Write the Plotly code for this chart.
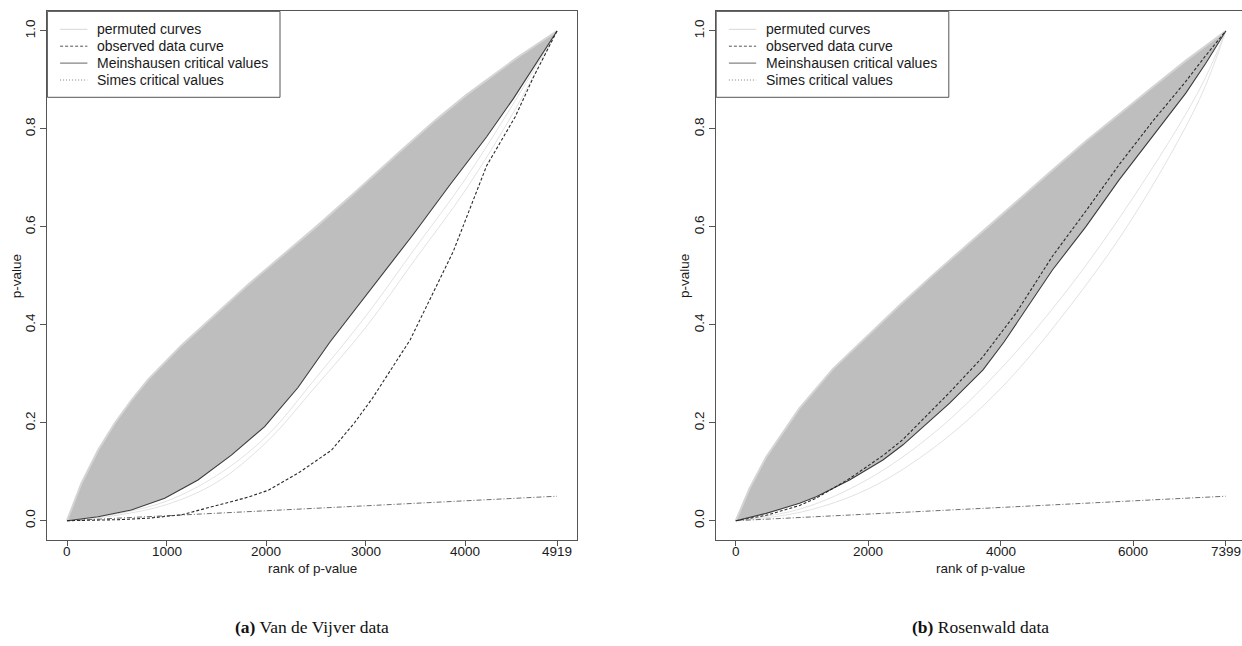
import plotly.graph_objects as go

# ---------------- data ----------------
# Panel (a): Van de Vijver data, n = 4919
a_n = 4919
a_upper_rank = [0, 144, 311, 479, 646, 813, 1148, 1483, 1817, 2152, 2500, 2900, 3343, 3700, 4013, 4515, 4919]
a_upper_p = [0, 0.076, 0.144, 0.199, 0.246, 0.288, 0.358, 0.421, 0.482, 0.540, 0.600, 0.672, 0.754, 0.818, 0.870, 0.945, 1.0]
a_mein_rank = [0, 311, 646, 981, 1315, 1650, 1984, 2319, 2640, 3009, 3477, 3845, 4213, 4481, 4681, 4919]
a_mein_p = [0, 0.008, 0.022, 0.046, 0.083, 0.134, 0.192, 0.272, 0.365, 0.462, 0.585, 0.686, 0.784, 0.862, 0.925, 1.0]
a_obs_rank = [0, 500, 813, 1148, 1483, 1817, 2018, 2320, 2655, 2886, 3066, 3444, 3878, 4213, 4400, 4500, 4681, 4919]
a_obs_p = [0, 0.002, 0.005, 0.012, 0.030, 0.048, 0.062, 0.097, 0.144, 0.200, 0.250, 0.369, 0.550, 0.725, 0.790, 0.825, 0.905, 1.0]
a_low1_rank = [0, 500, 1000, 1500, 2000, 2500, 3000, 3500, 4000, 4500, 4919]
a_low1_p = [0, 0.011, 0.033, 0.078, 0.160, 0.275, 0.395, 0.535, 0.675, 0.840, 1.0]
a_low2_rank = [0, 500, 1000, 1500, 2000, 2500, 3000, 3500, 4000, 4500, 4919]
a_low2_p = [0, 0.014, 0.040, 0.092, 0.172, 0.292, 0.418, 0.558, 0.698, 0.858, 1.0]
a_simes_rank = [0, 4919]
a_simes_p = [0, 0.05]
a_xticks = [0, 1000, 2000, 3000, 4000, 4919]

# Panel (b): Rosenwald data, n = 7399
b_n = 7399
b_upper_rank = [0, 208, 459, 963, 1467, 1970, 2474, 2978, 3481, 3900, 4277, 4800, 5284, 5800, 6291, 6800, 7399]
b_upper_p = [0, 0.066, 0.130, 0.230, 0.310, 0.375, 0.440, 0.502, 0.562, 0.612, 0.656, 0.718, 0.775, 0.832, 0.885, 0.940, 1.0]
b_mein_rank = [0, 459, 963, 1215, 1718, 2222, 2525, 3229, 3733, 4050, 4781, 5284, 5788, 6291, 6795, 7097, 7399]
b_mein_p = [0, 0.015, 0.0355, 0.049, 0.083, 0.124, 0.155, 0.240, 0.308, 0.365, 0.512, 0.600, 0.696, 0.784, 0.873, 0.934, 1.0]
b_obs_rank = [0, 459, 963, 1215, 1718, 2222, 2525, 3229, 3733, 4237, 4781, 5284, 5788, 6291, 6795, 7097, 7399]
b_obs_p = [0, 0.011, 0.031, 0.046, 0.086, 0.133, 0.166, 0.262, 0.335, 0.425, 0.540, 0.632, 0.727, 0.815, 0.897, 0.950, 1.0]
b_low1_rank = [0, 1000, 2000, 3000, 4000, 5000, 6000, 7000, 7399]
b_low1_p = [0, 0.018, 0.065, 0.150, 0.270, 0.430, 0.620, 0.860, 1.0]
b_low2_rank = [0, 1000, 2000, 3000, 4000, 5000, 6000, 7000, 7399]
b_low2_p = [0, 0.025, 0.085, 0.180, 0.310, 0.470, 0.660, 0.880, 1.0]
b_simes_rank = [0, 7399]
b_simes_p = [0, 0.05]
b_xticks = [0, 2000, 4000, 6000, 7399]

y_ticks = [0.0, 0.2, 0.4, 0.6, 0.8, 1.0]
y_ticktext = ["0.0", "0.2", "0.4", "0.6", "0.8", "1.0"]
legend_labels = ["permuted curves", "observed data curve", "Meinshausen critical values", "Simes critical values"]
captions = [("(a)", "Van de Vijver data"), ("(b)", "Rosenwald data")]

# ---------------- layout geometry (pixels) ----------------
W, H = 1242, 646
PW = 529.2                      # plot frame width (px)
PT, PB = 11.4, 540.3            # frame top / bottom (px)
A_LEFT = 47.4
B_LEFT = 716.2

def px(x):
    return x / W

def py(y):
    return 1 - y / H

SANS = "Liberation Sans, Arial, Helvetica, sans-serif"
SERIF = "Liberation Serif, Times New Roman, serif"
GREY = "#bebebe"
FRAME = "#555555"
TEXT = "#1a1a1a"

fig = go.Figure()


def add_panel(xa, ya, upper_r, upper_p, mein_r, mein_p, obs_r, obs_p,
              low1_r, low1_p, low2_r, low2_p, simes_r, simes_p):
    # permuted curves band
    fig.add_trace(go.Scatter(x=upper_r + mein_r[::-1], y=upper_p + mein_p[::-1],
                             mode="lines", fill="toself", fillcolor=GREY,
                             line=dict(width=0, color=GREY), hoverinfo="skip",
                             xaxis=xa, yaxis=ya, showlegend=False))
    fig.add_trace(go.Scatter(x=upper_r, y=upper_p, mode="lines",
                             line=dict(width=2, color="#d4d4d4"), hoverinfo="skip",
                             xaxis=xa, yaxis=ya, showlegend=False))
    for lr, lp in ((low1_r, low1_p), (low2_r, low2_p)):
        fig.add_trace(go.Scatter(x=lr, y=lp, mode="lines", line_shape="spline",
                                 line=dict(width=1, color="#e2e2e2"), hoverinfo="skip",
                                 xaxis=xa, yaxis=ya, showlegend=False))
    # Simes
    fig.add_trace(go.Scatter(x=simes_r, y=simes_p, mode="lines",
                             line=dict(width=1, color="#6e6e6e", dash="5px,2px,1px,2px"),
                             xaxis=xa, yaxis=ya, showlegend=False))
    # Meinshausen
    fig.add_trace(go.Scatter(x=mein_r, y=mein_p, mode="lines",
                             line=dict(width=1.1, color="#3c3c3c"),
                             xaxis=xa, yaxis=ya, showlegend=False))
    # observed
    fig.add_trace(go.Scatter(x=obs_r, y=obs_p, mode="lines",
                             line=dict(width=1.1, color="#2a2a2a", dash="3px,2px"),
                             xaxis=xa, yaxis=ya, showlegend=False))


add_panel("x", "y", a_upper_rank, a_upper_p, a_mein_rank, a_mein_p, a_obs_rank, a_obs_p,
          a_low1_rank, a_low1_p, a_low2_rank, a_low2_p, a_simes_rank, a_simes_p)
add_panel("x2", "y2", b_upper_rank, b_upper_p, b_mein_rank, b_mein_p, b_obs_rank, b_obs_p,
          b_low1_rank, b_low1_p, b_low2_rank, b_low2_p, b_simes_rank, b_simes_p)

# axis ranges (R style: 4% padding)
a_range = [-0.04 * a_n, 1.04 * a_n]
b_ppu = PW / (1.08 * b_n)
b_range = [-0.04 * b_n, -0.04 * b_n + (W - B_LEFT) / b_ppu]

common_x = dict(showgrid=False, zeroline=False, ticks="outside", ticklen=5, tickwidth=1,
                tickcolor=FRAME, showline=True, linecolor=FRAME, linewidth=1,
                showticklabels=False)
common_y = dict(showgrid=False, zeroline=False, ticks="outside", ticklen=6, tickwidth=1,
                tickcolor=FRAME, showline=True, linecolor=FRAME, linewidth=1,
                tickvals=y_ticks, ticktext=y_ticktext, tickangle=-90, range=[-0.04, 1.04],
                tickfont=dict(family=SANS, size=13.5, color=TEXT))

fig.update_layout(
    width=W, height=H, margin=dict(l=0, r=0, t=0, b=0),
    paper_bgcolor="white", plot_bgcolor="white",
    xaxis=dict(domain=[px(A_LEFT), px(A_LEFT + PW)], range=a_range, anchor="y", mirror=True,
               tickvals=a_xticks, **common_x),
    yaxis=dict(domain=[py(PB), py(PT)], anchor="x", mirror=True, **common_y),
    xaxis2=dict(domain=[px(B_LEFT), 1.0], range=b_range, anchor="y2", mirror=True,
                tickvals=b_xticks, **common_x),
    yaxis2=dict(domain=[py(PB), py(PT)], anchor="x2", mirror=False, **common_y),
    hovermode=False,
)

shapes = []
annotations = []
legend_styles = [
    dict(color="#d6d6d6", width=1, dash="solid"),
    dict(color="#555555", width=1, dash="3px,2px"),
    dict(color="#666666", width=1, dash="solid"),
    dict(color="#808080", width=1, dash="1px,2px"),
]
for xref, ticks in (("x", a_xticks), ("x2", b_xticks)):
    for t in ticks:
        annotations.append(dict(xref=xref, yref="paper", x=t, y=py(551.5),
                                xanchor="center", yanchor="middle", showarrow=False,
                                text=str(t), font=dict(family=SANS, size=13.5, color=TEXT)))

for left, (cap_bold, cap_text) in ((A_LEFT, captions[0]), (B_LEFT, captions[1])):
    # legend box
    shapes.append(dict(type="rect", xref="paper", yref="paper",
                       x0=px(left), x1=px(left + 232.6), y0=py(PT), y1=py(97.3),
                       line=dict(color=FRAME, width=1), fillcolor="white", layer="above"))
    for i, lab in enumerate(legend_labels):
        yy = 29.3 + 16.9 * i
        shapes.append(dict(type="line", xref="paper", yref="paper",
                           x0=px(left + 12.7), x1=px(left + 40), y0=py(yy), y1=py(yy),
                           line=legend_styles[i], layer="above"))
        annotations.append(dict(xref="paper", yref="paper", x=px(left + 48), y=py(yy),
                                xanchor="left", yanchor="middle", showarrow=False, text=lab,
                                font=dict(family=SANS, size=14, color=TEXT)))
    cx = left + PW / 2
    # axis titles
    annotations.append(dict(xref="paper", yref="paper", x=px(cx), y=py(568.8),
                            xanchor="center", yanchor="middle", showarrow=False,
                            text="rank of p-value", font=dict(family=SANS, size=13.5, color=TEXT)))
    annotations.append(dict(xref="paper", yref="paper", x=px(left - 31), y=py((PT + PB) / 2),
                            xanchor="center", yanchor="middle", showarrow=False, textangle=-90,
                            text="p-value", font=dict(family=SANS, size=13.5, color=TEXT)))
    # caption
    annotations.append(dict(xref="paper", yref="paper", x=px(cx), y=py(627),
                            xanchor="center", yanchor="middle", showarrow=False,
                            text="<b>" + cap_bold + "</b> " + cap_text,
                            font=dict(family=SERIF, size=17.5, color="#111111")))

fig.update_layout(shapes=shapes, annotations=annotations)

fig.write_html("out.html", config={"displayModeBar": False},
               post_script="document.body.style.margin='0';document.body.style.overflow='hidden';")
